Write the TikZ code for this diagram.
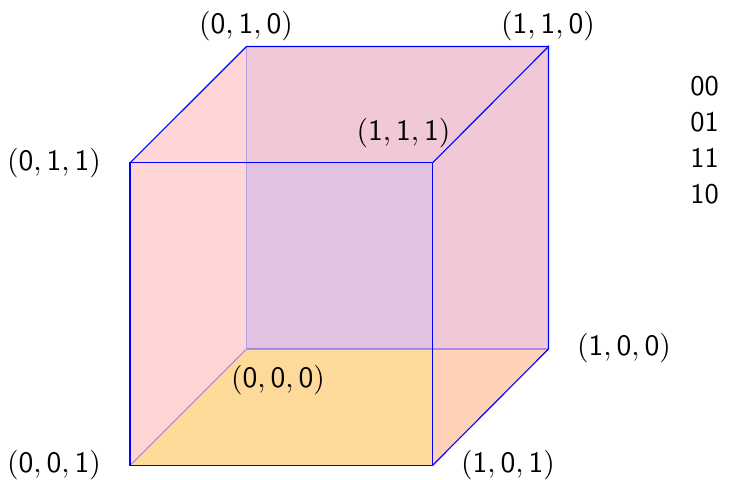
\documentclass[tikz,border=0pt]{standalone}
\usepackage{xcolor}
\definecolor{LeftFace}{HTML}{FFD5D5}
\definecolor{BackFace}{HTML}{F0C8D8}
\definecolor{MidFace}{HTML}{E1C2E0}
\definecolor{FloorFace}{HTML}{FEDA9A}
\definecolor{FloorSide}{HTML}{FFD2B7}
\newcommand{\vtx}[3]{$(\mathsf{#1},\mathsf{#2},\mathsf{#3})$}
\tikzset{edge/.style={blue,line width=0.4pt},hidden/.style={blue,opacity=0.3,line width=0.4pt},vlabel/.style={scale=1.04}}

\begin{document}
\begin{tikzpicture}[x=0.3515pt,y=-0.3515pt,every node/.style={inner sep=0pt}]
\useasboundingbox (0,0) rectangle (733,480);
\coordinate (a) at (130,465.5);\coordinate (b) at (432.5,465.5);\coordinate (c) at (432.5,162.9);\coordinate (d) at (130,162.9);
\coordinate (e) at (246.5,349);\coordinate (f) at (548.5,349);\coordinate (g) at (548.5,46.5);\coordinate (h) at (246.5,46.5);
\coordinate (m) at (246.5,162.9);\coordinate (n) at (432.5,349);
\fill[LeftFace] (d)--(h)--(e)--(a)--cycle;
\fill[BackFace] (h)--(g)--(f)--(e)--cycle;
\fill[MidFace] (m)--(c)--(n)--(e)--cycle;
\fill[FloorFace] (a)--(e)--(n)--(b)--cycle;
\fill[FloorSide] (n)--(f)--(b)--cycle;
\draw[hidden] (h)--(e);\draw[hidden] (e)--(f);\draw[hidden] (a)--(e);
\draw[edge] (a)--(b)--(c)--(d)--cycle;
\draw[edge] (b)--(f)--(g)--(c);
\draw[edge] (d)--(h)--(g);
\node[vlabel] (v010) at (246,26) {\vtx010};
\node[vlabel] (v110) at (548,26) {\vtx110};
\node[vlabel] (v011) at (54,163) {\vtx011};
\node[vlabel] (v111) at (403.5,133) {\vtx111};
\node[vlabel] (v100) at (624,348) {\vtx100};
\node[vlabel] (v000) at (278,380) {\vtx000};
\node[vlabel] (v001) at (54,465) {\vtx001};
\node[vlabel] (v101) at (508,465) {\vtx101};
\foreach \code/\row in {00/86,01/122,11/158,10/194}
  \node[font=\sffamily] (c\code) at (704.5,\row) {\code};
\end{tikzpicture}
\end{document}
